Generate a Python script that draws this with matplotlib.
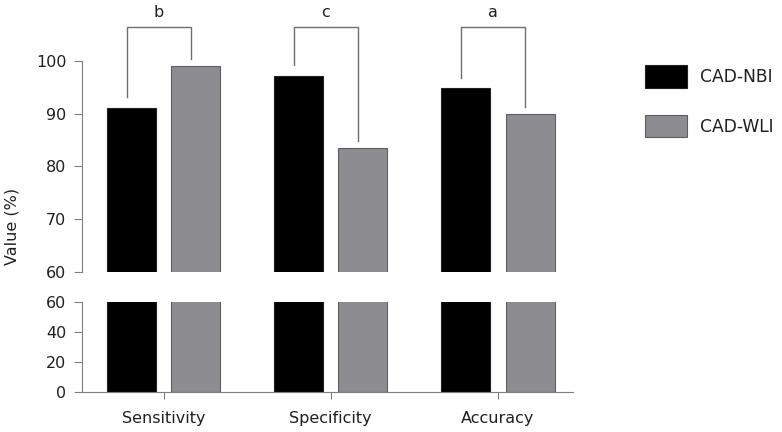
import numpy as np
import matplotlib
matplotlib.use("Agg")
import matplotlib.pyplot as plt

# values
categories = ["Sensitivity", "Specificity", "Accuracy"]
nbi_values = [91.1, 97.2, 94.8]
wli_values = [99.0, 83.6, 89.9]
sig_labels = ["b", "c", "a"]
series_names = ["CAD-NBI", "CAD-WLI"]

NBI_COLOR = "#000000"
WLI_COLOR = "#8d8c91"
AXIS_COLOR = "#7f7f7f"
TEXT_COLOR = "#231f20"

plt.rcParams["font.family"] = ["DejaVu Sans"]
plt.rcParams["font.size"] = 11.5

fig = plt.figure(figsize=(7.82, 4.32), dpi=100)
ax_top = fig.add_axes([0.1049, 0.3704, 0.6275, 0.4884])
ax_bot = fig.add_axes([0.1049, 0.0926, 0.6275, 0.2083])

x = np.arange(len(categories))
width = 0.293
offset = 0.192

for ax in (ax_top, ax_bot):
    ax.bar(x - offset, nbi_values, width, color=NBI_COLOR, edgecolor="#222222",
           linewidth=0.8, label=series_names[0])
    ax.bar(x + offset, wli_values, width, color=WLI_COLOR, edgecolor="#5e5d60",
           linewidth=0.8, label=series_names[1])
    ax.set_xlim(-0.488, 2.447)
    for side in ("top", "right"):
        ax.spines[side].set_visible(False)
    ax.spines["left"].set_color(AXIS_COLOR)
    ax.spines["bottom"].set_color(AXIS_COLOR)
    ax.tick_params(colors=AXIS_COLOR, labelcolor=TEXT_COLOR, length=5.8,
                   width=0.8, pad=5.5)

# top part: 60-100
ax_top.set_ylim(60, 100)
ax_top.set_yticks([60, 70, 80, 90, 100])
ax_top.spines["bottom"].set_visible(False)
ax_top.set_xticks([])

# bottom part: 0-60
ax_bot.set_ylim(0, 60)
ax_bot.set_yticks([0, 20, 40, 60])
ax_bot.set_xticks(x)
ax_bot.set_xticklabels(categories)
ax_bot.tick_params(axis="x", length=5, pad=9)

# significance brackets
bracket_top = 106.4
for i, lab in enumerate(sig_labels):
    xl = x[i] - offset - 0.03
    xr = x[i] + offset - 0.03
    yl = nbi_values[i] + 2.0
    yr = wli_values[i] + 1.3
    ax_top.plot([xl, xl, xr, xr], [yl, bracket_top, bracket_top, yr],
                color="#6f6f6f", lw=1.0, clip_on=False)
    ax_top.text((xl + xr) / 2, bracket_top + 1.3, lab, ha="center", va="bottom",
                color=TEXT_COLOR, fontsize=11.5, clip_on=False)

fig.text(12 / 782, 1 - 226 / 432, "Value (%)", rotation=90, ha="center",
         va="center", color=TEXT_COLOR)

handles, labels = ax_top.get_legend_handles_labels()
fig.legend(handles, labels, loc="upper left", bbox_to_anchor=(645 / 782, 1 - 65 / 432),
           frameon=False, borderpad=0, borderaxespad=0, handlelength=2.45,
           handleheight=1.65, labelspacing=1.6, handletextpad=0.75,
           labelcolor=TEXT_COLOR, prop={"size": 12.3})

fig.savefig("out.png", dpi=100)
